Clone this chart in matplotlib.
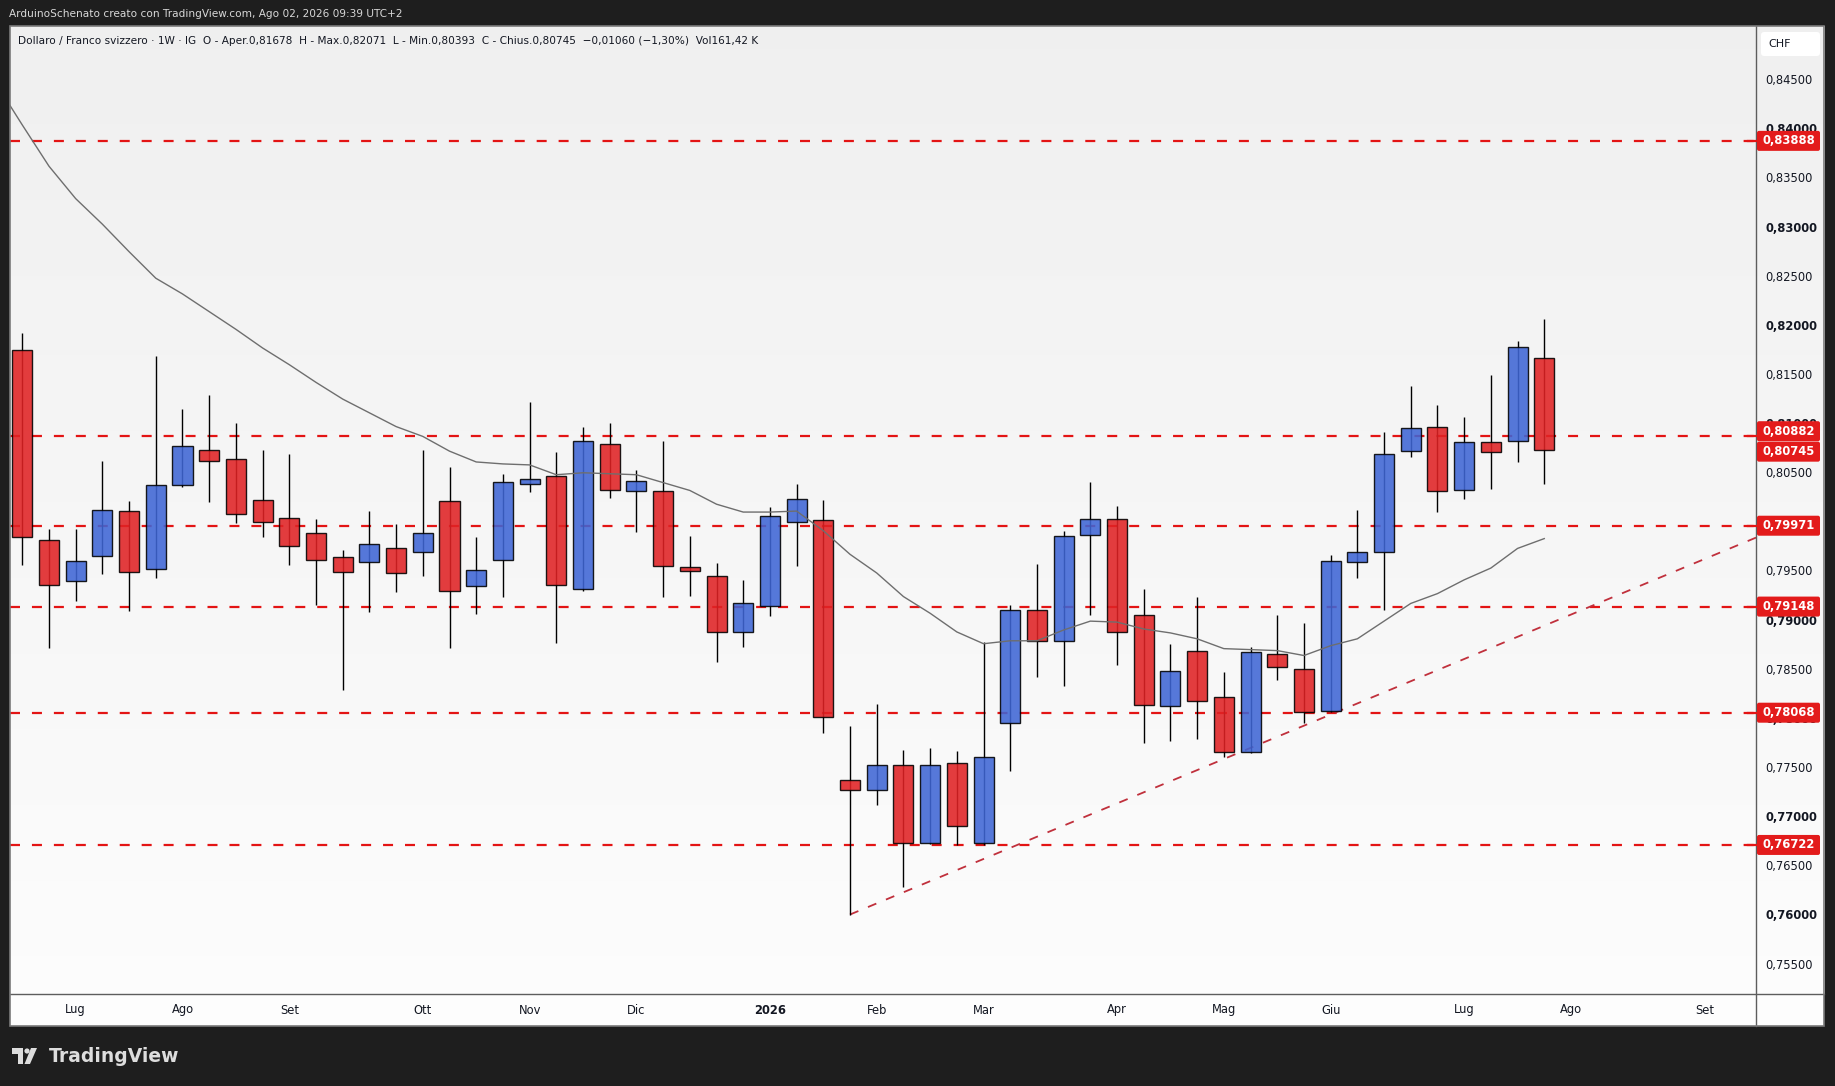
import matplotlib
matplotlib.use('Agg')
import matplotlib.pyplot as plt
import numpy as np
from matplotlib.patches import Rectangle, FancyBboxPatch, Circle, Polygon
from matplotlib.lines import Line2D
from matplotlib.transforms import blended_transform_factory, IdentityTransform

plt.rcParams['lines.scale_dashes'] = False
plt.rcParams['font.family'] = ['DejaVu Sans']

# ---------------- data ----------------
opens = [0.81761, 0.79824, 0.79408, 0.79662, 0.80118, 0.79530, 0.80382, 0.80737, 0.80645, 0.80230,
         0.80047, 0.79895, 0.79651, 0.79601, 0.79743, 0.79702, 0.80219, 0.79357, 0.79621, 0.80399,
         0.80479, 0.79332, 0.80806, 0.80327, 0.80327, 0.79546, 0.79463, 0.78886, 0.79158, 0.80004,
         0.80033, 0.77379, 0.77278, 0.77532, 0.76741, 0.77554, 0.76741, 0.77960, 0.79118, 0.78802,
         0.79880, 0.80044, 0.79067, 0.78135, 0.78700, 0.78225, 0.77666, 0.78665, 0.78513, 0.78087,
         0.79599, 0.79701, 0.80736, 0.80980, 0.80330, 0.80828, 0.80838, 0.81678]
highs = [0.81933, 0.79939, 0.79939, 0.80628, 0.80223, 0.81703, 0.81156, 0.81298, 0.81014, 0.80740,
         0.80699, 0.80040, 0.79726, 0.80121, 0.79989, 0.80740, 0.80568, 0.79858, 0.80497, 0.81227,
         0.80726, 0.80973, 0.81013, 0.80534, 0.80838, 0.79862, 0.79590, 0.79416, 0.80160, 0.80392,
         0.80229, 0.77931, 0.78156, 0.77688, 0.77710, 0.77677, 0.78788, 0.79169, 0.79579, 0.79913,
         0.80414, 0.80167, 0.79325, 0.78766, 0.79245, 0.78483, 0.78737, 0.79065, 0.78984, 0.79671,
         0.80131, 0.80923, 0.81390, 0.81197, 0.81075, 0.81501, 0.81846, 0.82071]
lows = [0.79567, 0.78722, 0.79202, 0.79476, 0.79100, 0.79435, 0.80370, 0.80216, 0.80003, 0.79861,
        0.79567, 0.79161, 0.78299, 0.79090, 0.79293, 0.79455, 0.78722, 0.79070, 0.79242, 0.80316,
        0.78780, 0.79307, 0.80254, 0.79909, 0.79249, 0.79256, 0.78588, 0.78740, 0.79053, 0.79561,
        0.77866, 0.76014, 0.77132, 0.76290, 0.76730, 0.76722, 0.76722, 0.77477, 0.78436, 0.78341,
        0.79064, 0.78555, 0.77764, 0.77775, 0.77804, 0.77622, 0.77660, 0.78398, 0.77968, 0.78080,
        0.79434, 0.79109, 0.80672, 0.80114, 0.80246, 0.80347, 0.80621, 0.80393]
closes = [0.79854, 0.79367, 0.79611, 0.80128, 0.79499, 0.80382, 0.80787, 0.80625, 0.80088, 0.80006,
          0.79760, 0.79621, 0.79499, 0.79783, 0.79489, 0.79895, 0.79307, 0.79520, 0.80412, 0.80450,
          0.79372, 0.80835, 0.80338, 0.80428, 0.79557, 0.79514, 0.78886, 0.79180, 0.80073, 0.80247,
          0.78022, 0.77278, 0.77532, 0.76741, 0.77532, 0.76915, 0.77615, 0.79118, 0.78802, 0.79869,
          0.80044, 0.78893, 0.78142, 0.78497, 0.78185, 0.77666, 0.78682, 0.78533, 0.78077, 0.79610,
          0.79701, 0.80706, 0.80970, 0.80320, 0.80828, 0.80726, 0.81792, 0.80745]

ma_x = list(range(-1, 58))
ma_vals = [0.8448, 0.8405, 0.8363, 0.8330, 0.8304, 0.8276, 0.8249, 0.8233, 0.8215, 0.8197,
           0.8178, 0.8161, 0.8143, 0.8126, 0.8112, 0.8098, 0.8088, 0.8073, 0.8062, 0.8060,
           0.8059, 0.8049, 0.8051, 0.8050, 0.8049, 0.8041, 0.8033, 0.8019, 0.8011, 0.8011,
           0.8012, 0.7992, 0.7968, 0.7949, 0.7925, 0.7908, 0.7889, 0.7877, 0.7880, 0.7880,
           0.7891, 0.7900, 0.7899, 0.7892, 0.7888, 0.7882, 0.7872, 0.7871, 0.7870, 0.7865,
           0.7875, 0.7882, 0.7900, 0.7918, 0.7928, 0.7942, 0.7954, 0.7974, 0.7984]

levels = [0.83888, 0.80882, 0.79971, 0.79148, 0.78068, 0.76722]
level_labels = ['0,83888', '0,80882', '0,79971', '0,79148', '0,78068', '0,76722']
last_close = 0.80745
last_label = '0,80745'

trend_x = [31, 64.93]
trend_y = [0.76014, 0.79850]

month_idx = [2, 6, 10, 15, 19, 23, 28, 32, 36, 41, 45, 49, 54, 58, 63]
month_lbl = ['Lug', 'Ago', 'Set', 'Ott', 'Nov', 'Dic', '2026', 'Feb', 'Mar', 'Apr',
             'Mag', 'Giu', 'Lug', 'Ago', 'Set']

price_ticks = [0.755, 0.760, 0.765, 0.770, 0.775, 0.780, 0.785, 0.790, 0.795, 0.800,
               0.805, 0.810, 0.815, 0.820, 0.825, 0.830, 0.835, 0.840, 0.845]

title_txt = 'ArduinoSchenato creato con TradingView.com, Ago 02, 2026 09:39 UTC+2'
header_txt = ('Dollaro / Franco svizzero \u00b7 1W \u00b7 IG  O - Aper.0,81678  H - Max.0,82071  '
              'L - Min.0,80393  C - Chius.0,80745  \u22120,01060 (\u22121,30%)  Vol161,42 K')

# ---------------- layout ----------------
W, H = 1835, 1086
fig = plt.figure(figsize=(W / 100, H / 100), dpi=100, facecolor='#1e1e1e')


def fx(px):
    return px / W


def fy(py):
    return 1 - py / H


PL, PR, PT, PB = 10, 1756, 26, 994   # plot area
AR, AB = 1824, 1026                   # panel right / bottom

# background gradient for panel
bg = fig.add_axes([fx(PL), fy(PB), fx(AR) - fx(PL), fy(PT) - fy(PB)], zorder=0)
grad = np.linspace(0.94, 0.99, 256).reshape(-1, 1)
bg.imshow(np.dstack([grad, grad, grad]), aspect='auto', extent=[0, 1, 0, 1], origin='upper')
bg.axis('off')
fig.add_artist(Rectangle((fx(PL), fy(AB)), fx(AR) - fx(PL), fy(PB) - fy(AB),
                         transform=fig.transFigure, fc='#fdfdfd', ec='none', zorder=0.5))

ax = fig.add_axes([fx(PL), fy(PB), fx(PR) - fx(PL), fy(PT) - fy(PB)], zorder=2)
ax.patch.set_alpha(0)
ax.set_xlim(-0.46, 64.93)
ax.set_ylim(0.75205, 0.85057)
ax.axis('off')

x = np.arange(len(opens))
o = np.array(opens); c = np.array(closes); h = np.array(highs); l = np.array(lows)
up = c >= o
blue = '#3f66d5'
red = '#e02224'

# levels
for lv in levels:
    ax.axhline(lv, color='#e31414', lw=1.6, dashes=(7.2, 8.6), zorder=1)
# trend line
ax.plot(trend_x, trend_y, color='#c0303c', lw=1.3, dashes=(6.5, 7.5), zorder=1.5)

# wicks
ax.vlines(x, l, h, color='black', lw=1.0, zorder=3)
# bodies
heights = np.maximum(np.abs(c - o), 0.00005)
bottoms = np.minimum(o, c)
ax.bar(x, heights, bottom=bottoms, width=0.75, color=np.where(up, blue, red),
       edgecolor='black', linewidth=1.0, alpha=0.88, zorder=4)

# moving average
ax.plot(ma_x, ma_vals, color='#6e6e6e', lw=1.0, zorder=5)

# price axis labels
blend_y = blended_transform_factory(fig.transFigure, ax.transData)
for p in price_ticks:
    bold = abs(round(p * 1000) % 10) == 0
    ax.text(fx(1765), p, ('%.5f' % p).replace('.', ','), transform=blend_y,
            fontsize=8.3, fontweight='bold' if bold else 'normal',
            color='#131722', ha='left', va='center', clip_on=False, zorder=6)

# time axis labels
blend_x = blended_transform_factory(ax.transData, fig.transFigure)
for i, s in zip(month_idx, month_lbl):
    ax.text(i, fy(1010), s, transform=blend_x, fontsize=8.3,
            fontweight='bold' if s == '2026' else 'normal',
            color='#131722', ha='center', va='center', clip_on=False)

# separators and border
fig.add_artist(Line2D([fx(PR), fx(PR)], [fy(PT), fy(AB)], transform=fig.transFigure,
                      color='#5d5d5d', lw=1.0, zorder=8))
fig.add_artist(Line2D([fx(PL), fx(AR)], [fy(PB), fy(PB)], transform=fig.transFigure,
                      color='#5d5d5d', lw=1.0, zorder=8))
fig.add_artist(Rectangle((fx(PL), fy(AB)), fx(AR) - fx(PL), fy(PT) - fy(AB),
                         transform=fig.transFigure, fill=False, ec='#7a7a7a', lw=1.2, zorder=8))

# red price labels
def ypix(v):
    return ax.transData.transform((0, v))[1]


label_items = list(zip(levels, level_labels, [0] * len(levels)))
label_items = [(v, s, (5 if s == '0,80882' else 0)) for v, s, _ in label_items]
label_items.append((last_close, last_label, -2))
for v, s, off in label_items:
    yc = ypix(v) + off
    fig.add_artist(FancyBboxPatch((PR + 1, yc - 10), 63, 20,
                                  boxstyle='round,pad=0,rounding_size=2',
                                  transform=IdentityTransform(), fc='#e31b1b', ec='none', zorder=10))
    fig.text((PR + 32.5) / W, yc / H, s, color='white', fontsize=8.3, fontweight='bold',
             ha='center', va='center', zorder=11)
for v in levels:
    yv = ypix(v)
    fig.add_artist(Line2D([PR - 8, PR], [yv, yv], transform=IdentityTransform(),
                          color='#e31414', lw=1.6, zorder=9))

# CHF box
fig.add_artist(FancyBboxPatch((1761, H - 56), 59, 24, boxstyle='round,pad=0,rounding_size=3',
                              transform=IdentityTransform(), fc='white', ec='none', zorder=10))
fig.text(fx(1768), fy(44), 'CHF', fontsize=8, color='#131722', ha='left', va='center', zorder=11)

# titles
fig.text(fx(9), fy(14), title_txt, fontsize=7.6, color='#d8d8d8', ha='left', va='center')
fig.text(fx(18), fy(41), header_txt, fontsize=7.6, color='#131722', ha='left', va='center', zorder=12)

# TradingView logo
fig.add_artist(Rectangle((12, H - 1054), 11, 6, transform=IdentityTransform(), fc='#dddddd', ec='none'))
fig.add_artist(Rectangle((18, H - 1064), 5, 16, transform=IdentityTransform(), fc='#dddddd', ec='none'))
fig.add_artist(Circle((27, H - 1051), 2.6, transform=IdentityTransform(), fc='#dddddd', ec='none'))
fig.add_artist(Polygon([(31, H - 1048), (37, H - 1048), (30, H - 1064), (24.5, H - 1064)],
                       closed=True, transform=IdentityTransform(), fc='#dddddd', ec='none'))
fig.text(fx(49), fy(1056), 'TradingView', fontsize=13.5, fontweight='bold', color='#dddddd',
         ha='left', va='center')

fig.savefig('out.png', dpi=100, facecolor=fig.get_facecolor())
